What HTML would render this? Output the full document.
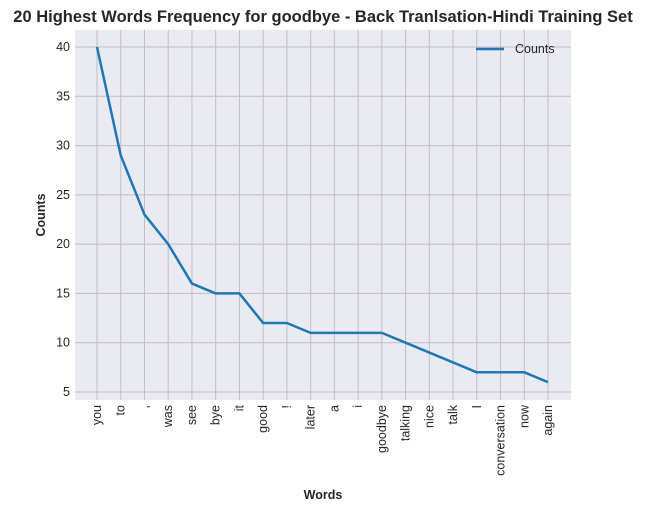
<!DOCTYPE html>
<html><head><meta charset="utf-8"><style>
body{margin:0;background:#fff;font-family:"Liberation Sans",Arial,sans-serif}
</style></head><body>
<svg id="c" width="645" height="513" xmlns="http://www.w3.org/2000/svg" font-family="Liberation Sans, Arial, sans-serif"></svg>
<script>
const categories=["you","to",",","was","see","bye","it","good","!","later","a","i","goodbye","talking","nice","talk","I","conversation","now","again"];
const counts=[40,29,23,20,16,15,15,12,12,11,11,11,11,10,9,8,7,7,7,6];
const yTicks=[5,10,15,20,25,30,35,40];
const NS="http://www.w3.org/2000/svg";
const svg=document.getElementById('c');
const L=75,R=571,T=30,B=400;
const x0=97,dx=(548-97)/19;
function X(i){return x0+i*dx;}
function Y(v){return 392-(v-5)*(392-47)/35;}
function mk(t,a,p){const e=document.createElementNS(NS,t);for(const k in a)e.setAttribute(k,a[k]);(p||svg).appendChild(e);return e;}
const bg=mk('rect',{x:L,y:T,width:R-L,height:B-T,fill:'#eaeaf2'});


yTicks.forEach(v=>{
 const g=mk('line',{x1:L,x2:R,y1:Y(v),y2:Y(v),stroke:'#c0c0c0','stroke-width':1});
 
 
 const t=mk('text',{x:L-5,y:Y(v)+4,'text-anchor':'end','font-size':12.5,fill:'#262626'});
 t.textContent=v;
 
 
});
categories.forEach((c,i)=>{
 const g=mk('line',{x1:X(i),x2:X(i),y1:T,y2:B,stroke:'#c0c0c0','stroke-width':1});
 
 
 const t=mk('text',{x:0,y:0,'text-anchor':'end','font-size':12.5,fill:'#262626',transform:`translate(${X(i)+4},405) rotate(-90)`});
 t.textContent=c;
 
 
});
const line=mk('polyline',{points:counts.map((v,i)=>X(i)+','+Y(v)).join(' '),fill:'none',stroke:'#1f77b4','stroke-width':2.5,'stroke-linejoin':'round'});


const title=mk('text',{x:323,y:22,'text-anchor':'middle','font-size':16.5,'font-weight':'bold',fill:'#262626'});
title.textContent='20 Highest Words Frequency for goodbye - Back Tranlsation-Hindi Training Set';


const xt=mk('text',{x:323,y:499,'text-anchor':'middle','font-size':12.5,'font-weight':'bold',fill:'#262626'});
xt.textContent='Words';


const yt=mk('text',{x:0,y:0,'text-anchor':'middle','font-size':12.5,'font-weight':'bold',fill:'#262626',transform:'translate(45,215) rotate(-90)'});
yt.textContent='Counts';


const lg=mk('g',{});


mk('line',{x1:476,x2:504,y1:49,y2:49,stroke:'#1f77b4','stroke-width':2.5},lg);
const lt=mk('text',{x:515,y:53,'font-size':12.5,fill:'#262626'},lg);
lt.textContent='Counts';
</script>
</body></html>
